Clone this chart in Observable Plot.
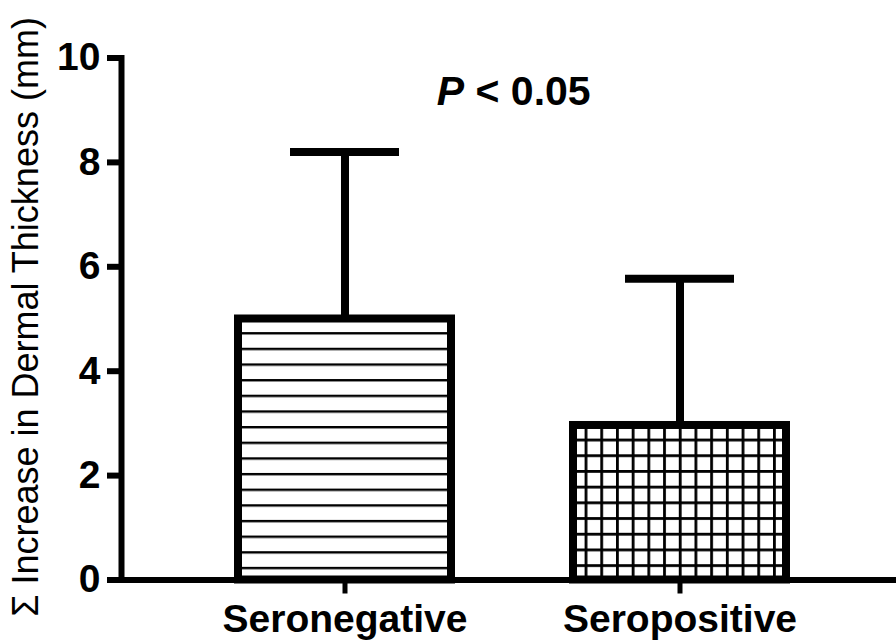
<!DOCTYPE html>
<html><head><meta charset="utf-8">
<script src="https://cdn.jsdelivr.net/npm/d3@7"></script>
<script src="https://cdn.jsdelivr.net/npm/@observablehq/plot@0.6"></script>
<style>
body{margin:0;background:#fff;}
#chart svg{display:block;}
#chart g[aria-label="x-axis tick label"] text, #chart g[aria-label="y-axis tick label"] text{font-weight:bold;}
</style></head><body><div id="chart"></div>
<script>
const groups = ["Seronegative", "Seropositive"];
const means = [5.0, 2.96];
const sds = [3.2, 2.81];
const yTicks = [0, 2, 4, 6, 8, 10];
const yLabel = "Σ Increase in Dermal Thickness (mm)";
const pLetter = ["P"];
const pRest = ["< 0.05"];

const data = groups.map((g, i) => ({group: g, mean: means[i], sd: sds[i], top: means[i] + sds[i]}));
const fills = ["url(#hlines)", "url(#grid)"];
const font = "'Liberation Sans', Arial, sans-serif";

const chart = Plot.plot({
  width: 896, height: 644,
  marginLeft: 121, marginRight: 0, marginTop: 57.5, marginBottom: 64.5,
  style: {fontFamily: font, color: "#000", background: "#fff"},
  x: {domain: groups, paddingInner: 0.363, paddingOuter: 0.335, align: 0.516},
  y: {domain: [0, 10]},
  marks: [
    ...groups.map((g, i) => Plot.barY(data.filter(d => d.group === g), {x: "group", y: "mean", fill: fills[i], stroke: "#000", strokeWidth: 8})),
    Plot.ruleX(data, {x: "group", y1: "mean", y2: "top", stroke: "#000", strokeWidth: 8}),
    Plot.tickY(data, {x: "group", y: "top", stroke: "#000", strokeWidth: 8, insetLeft: 52, insetRight: 52}),
    Plot.axisY({ticks: yTicks, tickSize: 14, tickPadding: 7, strokeWidth: 6, fontSize: 39, fontWeight: "bold", label: null}),
    Plot.axisX({tickSize: 14, tickPadding: 10, strokeWidth: 5, fontSize: 39, fontWeight: "bold", label: null}),
    Plot.ruleY([0], {stroke: "#000", strokeWidth: 6, strokeLinecap: "square"}),
    Plot.frame({anchor: "left", stroke: "#000", strokeWidth: 6, strokeLinecap: "square"}),
    Plot.text([yLabel], {frameAnchor: "left", rotate: -90, dx: -95, dy: -2, fontSize: 36, textAnchor: "middle", fill: "#000"}),
    Plot.text(pLetter, {frameAnchor: "top", textAnchor: "end", dx: -45, dy: 17.5, fontSize: 41, fontWeight: "bold", fontStyle: "italic", fill: "#000"}),
    Plot.text(pRest, {frameAnchor: "top", textAnchor: "start", dx: -33.5, dy: 17.5, fontSize: 41, fontWeight: "bold", fill: "#000"})
  ]
});

const svg = d3.select(chart);
const defs = svg.insert("defs", ":first-child");
const hp = defs.append("pattern").attr("id", "hlines").attr("patternUnits", "userSpaceOnUse")
  .attr("x", 0).attr("y", 332.1).attr("width", 20).attr("height", 15.65);
hp.append("rect").attr("width", 20).attr("height", 15.65).attr("fill", "#fff");
hp.append("rect").attr("width", 20).attr("height", 2.4).attr("fill", "#000");
const gp = defs.append("pattern").attr("id", "grid").attr("patternUnits", "userSpaceOnUse")
  .attr("x", 584.6).attr("y", 438.6).attr("width", 15.7).attr("height", 15.7);
gp.append("rect").attr("width", 15.7).attr("height", 15.7).attr("fill", "#fff");
gp.append("rect").attr("width", 2.8).attr("height", 15.7).attr("fill", "#000");
gp.append("rect").attr("width", 15.7).attr("height", 2.8).attr("fill", "#000");

document.getElementById("chart").appendChild(chart);
</script></body></html>
